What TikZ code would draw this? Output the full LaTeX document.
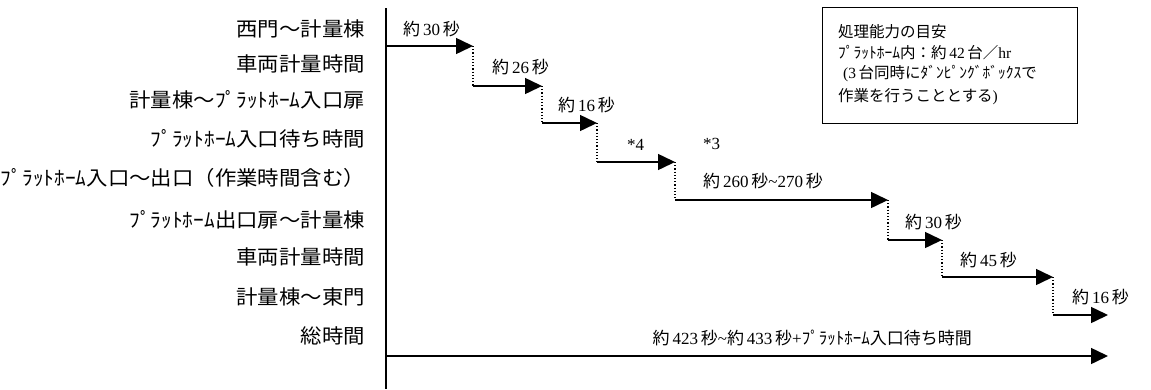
\documentclass[tikz,border=0pt]{standalone}
\usepackage{fontspec}
\setmainfont{Liberation Serif}
\newfontfamily\jp{Noto Sans CJK JP}
\newfontfamily\jpw[FakeStretch=1.07]{Noto Sans CJK JP}
\usetikzlibrary{arrows.meta}
\newcommand\yk[1]{{\jp 約}\,#1\,{\jp 秒}}
\begin{document}
\begin{tikzpicture}[x=1pt,y=-1pt,
  lab/.style={anchor=east,font=\jpw\fontsize{20}{20}\selectfont,inner sep=0pt},
  tl/.style={anchor=west,font=\fontsize{17}{17}\selectfont,inner sep=0pt},
  bx/.style={anchor=west,font=\fontsize{15.5}{15.5}\selectfont,inner sep=0pt},
  seg/.style={line width=1.5pt,-{Triangle[length=17pt,width=16pt]}},
  drop/.style={dotted,line width=1.2pt}]
\useasboundingbox (0,0) rectangle (1151,389);
% axis
\coordinate (top) at (386,8);
\coordinate (bot) at (386,389);
\draw[line width=1.8pt] (top) -- (bot);
% left labels
\node[lab] (l1) at (365,29) {西門～計量棟};
\node[lab] (l2) at (365,64) {車両計量時間};
\node[lab] (l3) at (365,100) {計量棟～ﾌﾟﾗｯﾄﾎｰﾑ入口扉};
\node[lab] (l4) at (365,139) {ﾌﾟﾗｯﾄﾎｰﾑ入口待ち時間};
\node[lab] (l5) at (365,178) {ﾌﾟﾗｯﾄﾎｰﾑ入口～出口（作業時間含む）};
\node[lab] (l6) at (365,220) {ﾌﾟﾗｯﾄﾎｰﾑ出口扉～計量棟};
\node[lab] (l7) at (365,257) {車両計量時間};
\node[lab] (l8) at (365,297) {計量棟～東門};
\node[lab] (l9) at (365,336) {総時間};
% step points
\coordinate (s1) at (386,46);  \coordinate (t1) at (473,46);
\coordinate (s2) at (473,86);  \coordinate (t2) at (542,86);
\coordinate (s3) at (542,123); \coordinate (t3) at (597,123);
\coordinate (s4) at (597,162); \coordinate (t4) at (675,162);
\coordinate (s5) at (675,200); \coordinate (t5) at (888,200);
\coordinate (s6) at (888,240); \coordinate (t6) at (942,240);
\coordinate (s7) at (942,277); \coordinate (t7) at (1053,277);
\coordinate (s8) at (1053,315);\coordinate (t8) at (1108,315);
\coordinate (s9) at (386,356); \coordinate (t9) at (1108,356);
\draw[seg] (s1) -- (t1);
\draw[drop] (t1) -- (s2);
\draw[seg] (s2) -- (t2);
\draw[drop] (t2) -- (s3);
\draw[seg] (s3) -- (t3);
\draw[drop] (t3) -- (s4);
\draw[seg] (s4) -- (t4);
\draw[drop] (t4) -- (s5);
\draw[seg] (s5) -- (t5);
\draw[drop] (t5) -- (s6);
\draw[seg] (s6) -- (t6);
\draw[drop] (t6) -- (s7);
\draw[seg] (s7) -- (t7);
\draw[drop] (t7) -- (s8);
\draw[seg] (s8) -- (t8);
\draw[seg] (s9) -- (t9);
% step labels
\node[tl] (a1) at (403,29) {\yk{30}};
\node[tl] (a2) at (492,67) {\yk{26}};
\node[tl] (a3) at (558,105) {\yk{16}};
\node[tl] (a4) at (627,145) {*4};
\node[tl] (a5) at (703,144) {*3};
\node[tl] (a6) at (703,181) {\yk{260}\textasciitilde 270\,{\jp 秒}};
\node[tl] (a7) at (905,222) {\yk{30}};
\node[tl] (a8) at (960,260) {\yk{45}};
\node[tl] (a9) at (1072,297) {\yk{16}};
\node[tl,anchor=east] (a10) at (972,338) {\yk{423}\textasciitilde\yk{433}+{\jp ﾌﾟﾗｯﾄﾎｰﾑ入口待ち時間}};
% box
\node[draw,line width=1pt,anchor=north west,minimum width=255pt,minimum height=116pt,inner sep=0pt] (box) at (822,7) {};
\node[bx] (b1) at (838,32) {\jp 処理能力の目安};
\node[bx] (b2) at (838,53) {{\jp ﾌﾟﾗｯﾄﾎｰﾑ内：約}\,42\,{\jp 台／}hr};
\node[bx] (b3) at (843,74) {(3\,{\jp 台同時にﾀﾞﾝﾋﾟﾝｸﾞﾎﾞｯｸｽで}};
\node[bx] (b4) at (838,97) {{\jp 作業を行うこととする})};
\end{tikzpicture}
\end{document}
